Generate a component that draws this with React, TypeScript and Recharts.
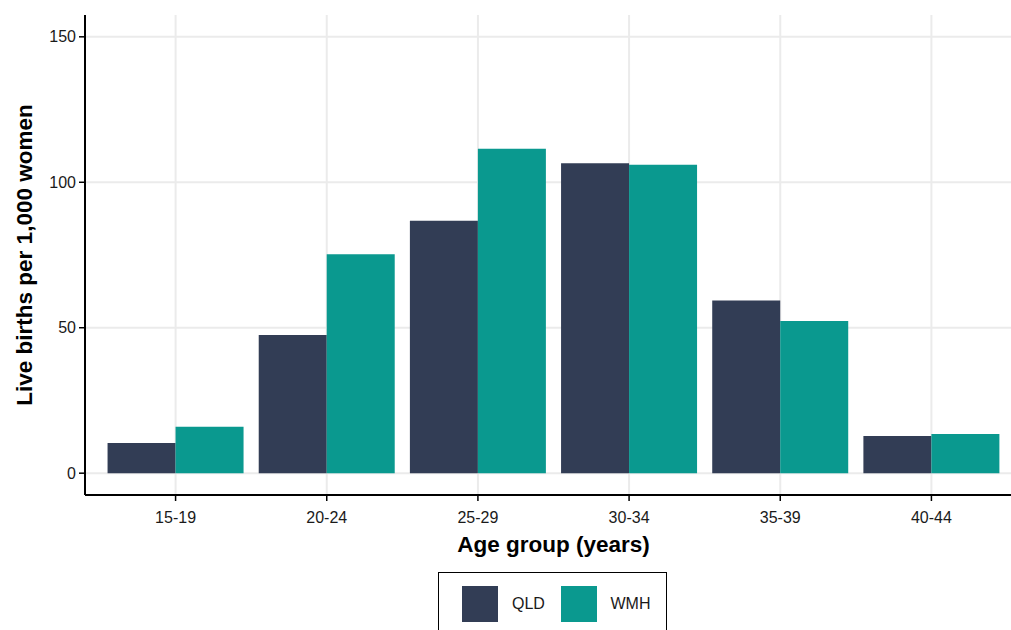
import React from "react";
import {
  BarChart,
  Bar,
  XAxis,
  YAxis,
  CartesianGrid,
  Legend
} from "recharts";

const AGE_GROUPS = ["15-19", "20-24", "25-29", "30-34", "35-39", "40-44"];
const QLD_RATES = [10.4, 47.5, 86.8, 106.5, 59.4, 12.8];
const WMH_RATES = [16.0, 75.3, 111.5, 106.0, 52.3, 13.5];
const Y_TICKS = [0, 50, 100, 150];

const SERIES = [
  { key: "qld", name: "QLD", color: "#323D55" },
  { key: "wmh", name: "WMH", color: "#0A998F" }
];

const FONT = "'Liberation Sans', Arial, sans-serif";

const data = AGE_GROUPS.map((age, i) => ({
  age,
  qld: QLD_RATES[i],
  wmh: WMH_RATES[i]
}));

function LegendBox() {
  return (
    <div style={{ position: "relative", height: 0 }}>
      <div
        style={{
          position: "absolute",
          left: 438,
          top: 572,
          width: 229,
          height: 62,
          border: "1.5px solid #000",
          boxSizing: "border-box",
          fontFamily: FONT,
          fontSize: 16,
          color: "#1a1a1a"
        }}
      >
        {SERIES.map((s, i) => (
          <div
            key={s.key}
            style={{
              position: "absolute",
              left: 23 + i * 98.5,
              top: 12.5,
              display: "flex",
              alignItems: "center"
            }}
          >
            <div style={{ width: 36, height: 36, background: s.color }} />
            <span style={{ marginLeft: 14 }}>{s.name}</span>
          </div>
        ))}
      </div>
    </div>
  );
}

export default function App() {
  return (
    <div
      style={{
        position: "fixed",
        left: 0,
        top: 0,
        width: 1011,
        height: 630,
        overflow: "hidden",
        background: "#fff"
      }}
    >
      <BarChart
        width={1030}
        height={630}
        data={data}
        margin={{ top: 15, right: 8, bottom: 95, left: 0 }}
        barCategoryGap="5%"
        barGap={0}
      >
        <CartesianGrid stroke="#EBEBEB" strokeWidth={2} syncWithTicks />
        <XAxis
          dataKey="age"
          height={40}
          padding={{ left: 15, right: 15 }}
          axisLine={{ stroke: "#000", strokeWidth: 2 }}
          tickLine={{ stroke: "#000", strokeWidth: 1.5 }}
          tickSize={6}
          tickMargin={11}
          tick={{ fontSize: 16, fill: "#1a1a1a", fontFamily: FONT }}
        />
        <YAxis
          type="number"
          width={85}
          domain={[-7.5, 157.5]}
          ticks={Y_TICKS}
          allowDataOverflow
          axisLine={{ stroke: "#000", strokeWidth: 2 }}
          tickLine={{ stroke: "#000", strokeWidth: 1.5 }}
          tickSize={6}
          tickMargin={3}
          tick={{ fontSize: 16, fill: "#1a1a1a", fontFamily: FONT }}
        />
        <Legend content={() => <LegendBox />} wrapperStyle={{ left: 0, top: 0, width: 0, height: 0 }} />
        {SERIES.map((s) => (
          <Bar
            key={s.key}
            dataKey={s.key}
            name={s.name}
            fill={s.color}
            isAnimationActive={false}
          />
        ))}
        <text
          x={553.5}
          y={552}
          textAnchor="middle"
          fontFamily={FONT}
          fontWeight="bold"
          fontSize={22.5}
          fill="#000"
        >
          Age group (years)
        </text>
        <text
          x={32}
          y={255}
          transform="rotate(-90 32 255)"
          textAnchor="middle"
          fontFamily={FONT}
          fontWeight="bold"
          fontSize={22.5}
          fill="#000"
        >
          Live births per 1,000 women
        </text>
      </BarChart>
    </div>
  );
}
